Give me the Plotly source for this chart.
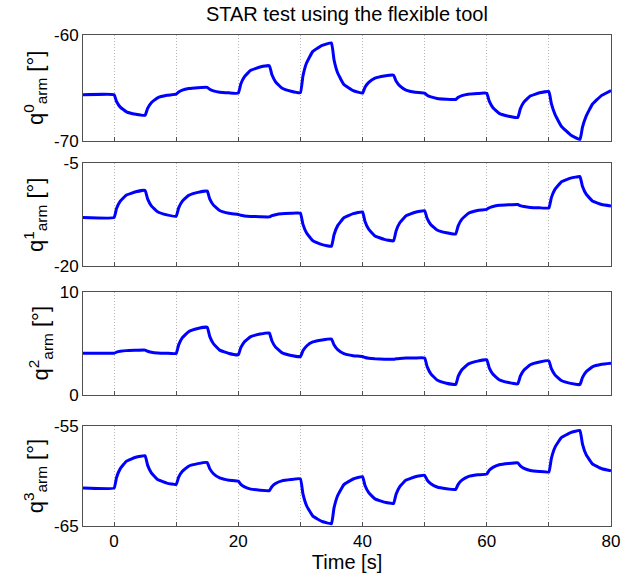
import plotly.graph_objects as go

# Time samples [s]
t = [-5,
     0, 0.4, 1, 2, 3.5,
     5, 5.4, 6, 7, 8.5,
     10, 10.4, 11, 12, 13.5,
     15, 15.4, 16, 17, 18.5,
     20, 20.4, 21, 22, 23.5,
     25, 25.4, 26, 27, 28.5,
     30, 30.4, 31, 32, 33.5,
     35, 35.4, 36, 37, 38.5,
     40, 40.4, 41, 42, 43.5,
     45, 45.4, 46, 47, 48.5,
     50, 50.4, 51, 52, 53.5,
     55, 55.4, 56, 57, 58.5,
     60, 60.4, 61, 62, 63.5,
     65, 65.4, 66, 67, 68.5,
     70, 70.4, 71, 72, 73.5,
     75, 75.4, 76, 77, 78.5,
     80]

q0 = [-65.65,
      -65.65, -66.29, -66.82, -67.27, -67.50,
      -67.60, -66.94, -66.40, -65.94, -65.70,
      -65.60, -65.39, -65.21, -65.06, -64.98,
      -64.95, -65.13, -65.28, -65.41, -65.47,
      -65.50, -64.64, -63.94, -63.34, -63.03,
      -62.90, -63.74, -64.43, -65.02, -65.32,
      -65.45, -63.90, -62.63, -61.55, -60.98,
      -60.75, -62.32, -63.60, -64.69, -65.26,
      -65.50, -64.94, -64.48, -64.09, -63.88,
      -63.80, -64.36, -64.82, -65.21, -65.42,
      -65.50, -65.70, -65.86, -66.00, -66.07,
      -66.10, -65.90, -65.74, -65.60, -65.53,
      -65.50, -66.26, -66.88, -67.41, -67.69,
      -67.80, -66.99, -66.33, -65.77, -65.47,
      -65.35, -66.49, -67.53, -68.63, -69.45,
      -69.90, -68.74, -67.67, -66.55, -65.71,
      -65.25]

q1 = [-12.90,
      -12.90, -11.59, -10.52, -9.61, -9.14,
      -8.94, -10.18, -11.20, -12.06, -12.51,
      -12.70, -11.49, -10.50, -9.66, -9.22,
      -9.04, -10.17, -11.09, -11.87, -12.28,
      -12.45, -12.57, -12.66, -12.74, -12.78,
      -12.80, -12.62, -12.48, -12.35, -12.29,
      -12.26, -13.86, -15.16, -16.28, -16.86,
      -17.10, -15.44, -14.08, -12.93, -12.32,
      -12.07, -13.47, -14.61, -15.58, -16.09,
      -16.30, -14.85, -13.66, -12.65, -12.12,
      -11.90, -13.02, -13.94, -14.72, -15.13,
      -15.30, -14.11, -13.14, -12.31, -11.88,
      -11.70, -11.47, -11.28, -11.12, -11.04,
      -11.00, -11.17, -11.30, -11.42, -11.48,
      -11.50, -9.99, -8.75, -7.70, -7.15,
      -6.92, -8.33, -9.49, -10.47, -10.99,
      -11.20]

q2 = [4.03,
      4.03, 4.13, 4.21, 4.28, 4.31,
      4.33, 4.22, 4.13, 4.06, 4.02,
      4.00, 4.84, 5.54, 6.12, 6.43,
      6.56, 5.67, 4.95, 4.33, 4.00,
      3.87, 4.57, 5.15, 5.64, 5.89,
      6.00, 5.24, 4.62, 4.09, 3.81,
      3.70, 4.26, 4.73, 5.12, 5.32,
      5.41, 4.85, 4.38, 3.99, 3.79,
      3.70, 3.61, 3.54, 3.48, 3.45,
      3.44, 3.48, 3.52, 3.55, 3.56,
      3.57, 2.72, 2.02, 1.42, 1.11,
      0.98, 1.77, 2.42, 2.97, 3.26,
      3.38, 2.61, 1.98, 1.45, 1.17,
      1.05, 1.79, 2.39, 2.90, 3.17,
      3.28, 2.52, 1.90, 1.37, 1.09,
      0.98, 1.66, 2.22, 2.70, 2.95,
      3.05]

q3 = [-61.20,
      -61.20, -60.13, -59.25, -58.50, -58.11,
      -57.95, -58.90, -59.68, -60.35, -60.70,
      -60.84, -60.11, -59.52, -59.01, -58.75,
      -58.64, -59.25, -59.76, -60.18, -60.41,
      -60.50, -60.82, -61.08, -61.30, -61.41,
      -61.46, -61.07, -60.75, -60.48, -60.34,
      -60.28, -61.76, -62.97, -64.01, -64.55,
      -64.77, -63.21, -61.94, -60.85, -60.29,
      -60.05, -60.94, -61.66, -62.28, -62.61,
      -62.74, -61.81, -61.05, -60.40, -60.06,
      -59.92, -60.39, -60.77, -61.09, -61.26,
      -61.33, -60.82, -60.41, -60.05, -59.87,
      -59.79, -59.42, -59.12, -58.86, -58.73,
      -58.67, -58.97, -59.22, -59.43, -59.54,
      -59.59, -58.22, -57.09, -56.14, -55.64,
      -55.43, -56.76, -57.85, -58.77, -59.26,
      -59.46]

series = [q0, q1, q2, q3]
y_ranges = [[-70, -60], [-20, -5], [0, 10], [-65, -55]]
y_titles = ["q<sup>0</sup><sub>arm</sub> [°]", "q<sup>1</sup><sub>arm</sub> [°]",
            "q<sup>2</sup><sub>arm</sub> [°]", "q<sup>3</sup><sub>arm</sub> [°]"]
x_tickvals = [0, 20, 40, 60, 80]

domains = [[0.7847, 1.0], [0.5292, 0.7384], [0.2676, 0.4769], [0.0, 0.2032]]

FONT = "Liberation Sans, Arial, Helvetica, sans-serif"
GRID = dict(showgrid=True, gridcolor="#b4b4b4", griddash="1px,2px", gridwidth=1)
fig = go.Figure()
layout = dict(
    width=633, height=577,
    margin=dict(l=83, r=22, t=35, b=45),
    paper_bgcolor="white", plot_bgcolor="white",
    showlegend=False,
    font=dict(family=FONT, size=16, color="black"),
    title=dict(text="STAR test using the flexible tool", x=0.548, xanchor="center",
               y=0.975, yanchor="middle", font=dict(size=20, family=FONT, color="black")),
)

for i, (vals, yr, yt, dom) in enumerate(zip(series, y_ranges, y_titles, domains)):
    n = "" if i == 0 else str(i + 1)
    fig.add_trace(go.Scatter(x=t, y=vals, mode="lines",
                             line=dict(color="#0000FF", width=3, shape="spline", smoothing=0.3),
                             xaxis="x" + n, yaxis="y" + n))
    last = (i == 3)
    xa = dict(
        domain=[0, 1], range=[-5, 80], anchor="y" + n,
        tickvals=x_tickvals, showticklabels=last,
        zeroline=False, showline=True, linecolor="#505050", linewidth=1, mirror=True,
        ticks="inside", ticklen=4, tickcolor="#505050",
        tickfont=dict(size=17, family=FONT),
        minor=dict(dtick=10, tick0=0, ticks="inside", ticklen=4, tickcolor="#505050", **GRID),
        **GRID,
    )
    if last:
        xa["title"] = dict(text="Time [s]", font=dict(size=20, family=FONT), standoff=0)
    if i > 0:
        xa["matches"] = "x"
    layout["xaxis" + n] = xa
    layout["yaxis" + n] = dict(
        domain=dom, range=yr, anchor="x" + n,
        tickvals=yr, ticktext=[str(v) for v in yr],
        showgrid=False, zeroline=False,
        showline=True, linecolor="#505050", linewidth=1, mirror=True,
        ticks="", tickfont=dict(size=17, family=FONT),
        title=dict(text=yt, font=dict(size=22, family=FONT), standoff=4),
    )

fig.update_layout(**layout)
fig.write_html("out.html")
